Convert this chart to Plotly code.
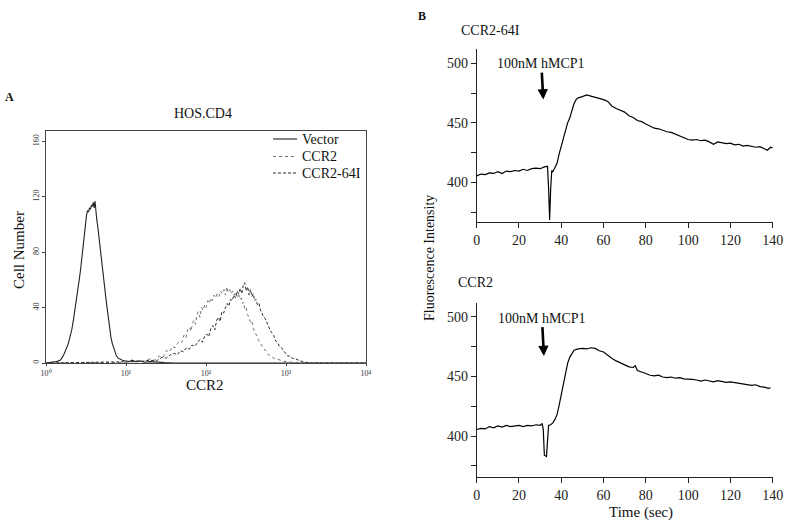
import plotly.graph_objects as go

# ---------------- Panel A: flow cytometry histograms ----------------
vector_x = [1.0, 1.2, 1.35, 1.5, 1.6, 1.7, 1.8, 1.9, 2.0, 2.1, 2.2, 2.3, 2.4, 2.5, 2.6, 2.7, 2.8, 2.9,
            3.0, 3.1, 3.2, 3.3, 3.4, 3.5, 3.6, 3.7, 3.8, 3.9, 4.0, 4.1, 4.2, 4.3, 4.45, 4.6, 4.75, 4.9,
            5.0, 5.2, 5.4, 5.6, 5.8, 6.0, 6.25, 6.5, 6.75, 7.0, 7.3, 7.6, 8.0, 8.5, 9.0, 10, 11, 12, 13,
            15, 17, 20, 25, 30, 40, 10000]
vector_y = [0, 0.5, 1, 2, 4, 7, 10, 14, 19, 24, 31, 38, 45, 52, 60, 67, 76, 84,
            92, 100, 106, 110, 109, 112, 111, 114, 113, 116, 112, 117, 108, 104, 98, 90, 82, 76,
            71, 64, 56, 47, 40, 32, 25, 18, 14, 11, 7.5, 5, 3.5, 2.5, 2, 1.5, 1, 2, 1,
            1.5, 0.5, 1, 0.5, 0.3, 0, 0]

ccr2_x = [1, 5, 10, 13, 16, 20, 23, 26, 29, 32, 35, 38, 41, 44, 47, 50, 53, 56, 59, 62, 65, 68, 71,
          74, 77, 80, 84, 88, 92, 96, 100, 105, 110, 115, 120, 126, 132, 138, 145, 152, 160, 168,
          175, 182, 190, 198, 206, 215, 225, 235, 245, 255, 265, 275, 285, 295, 305, 318, 330,
          345, 360, 375, 390, 410, 430, 450, 475, 500, 530, 560, 600, 650, 700, 760, 830, 900,
          1000, 1200, 1500, 10000]
ccr2_y = [0, 0, 0.5, 1.5, 1, 3, 2, 5, 4, 9, 8, 12, 11, 14, 16, 15, 20, 18, 24, 26, 23, 29, 31,
          28, 35, 37, 33, 40, 38, 42, 40, 45, 43, 47, 45, 49, 47, 50, 48, 52, 50, 53,
          49, 55, 51, 53, 50, 52, 49, 51, 48, 50, 46, 47, 43, 44, 39, 40, 35,
          33, 29, 30, 25, 22, 20, 17, 15, 13, 10, 9, 6, 5, 3.5, 3, 2, 1.5,
          1, 0.5, 0, 0]

ccr264i_x = [1, 5, 10, 15, 20, 24, 28, 32, 36, 40, 44, 48, 52, 57, 62, 67, 72, 78, 84, 90, 96,
             102, 108, 115, 122, 129, 136, 143, 150, 158, 166, 175, 184, 193, 203, 213, 223, 234,
             245, 256, 268, 280, 292, 305, 318, 332, 346, 360, 375, 390, 405, 420, 440, 460, 480,
             500, 525, 550, 575, 600, 630, 660, 700, 740, 780, 830, 880, 930, 990, 1050, 1120,
             1200, 1300, 1450, 1600, 1800, 2000, 10000]
ccr264i_y = [0, 0.5, 0.5, 1, 2, 1.5, 4, 3.5, 6, 7, 6, 9, 8, 11, 10, 13, 12, 15, 17, 15, 19,
             21, 19, 25, 27, 24, 31, 33, 30, 37, 36, 40, 43, 41, 46, 45, 49, 47,
             52, 50, 54, 50, 56, 58, 52, 55, 49, 53, 48, 50, 45, 46, 42, 43, 38,
             36, 33, 32, 29, 26, 24, 22, 20, 16, 15, 12, 11, 9, 7, 5, 5,
             3.5, 3, 2, 1, 0.5, 0, 0]

hist_names = ["Vector", "CCR2", "CCR2-64I"]
hist_yticks = [0, 40, 80, 120, 160]
hist_xticks = [1, 10, 100, 1000, 10000]
hist_xticklabels = ["10⁰", "10¹", "10²", "10³", "10⁴"]

# ---------------- Panel B: calcium flux traces ----------------
time_64i = [0, 2, 4, 6, 8, 10, 12, 14, 16, 18, 20, 22, 24, 26, 28, 30, 32, 33.5, 34, 34.5, 35, 35.5,
            36, 37, 38, 39, 40, 41, 42, 43, 44, 45, 46, 47, 48, 50, 52, 54, 56, 58, 60, 62, 64, 66,
            68, 70, 72, 74, 76, 78, 80, 82, 84, 86, 88, 90, 92, 94, 96, 98, 100, 102, 104, 106,
            108, 110, 112, 114, 116, 118, 120, 122, 124, 126, 128, 130, 132, 134, 136, 137.5, 139, 140]
fluor_64i = [405.5, 407, 406.5, 408, 407.5, 409, 407.5, 409.5, 409, 410, 409.5, 411, 410, 411.5, 412,
             411.5, 413, 413.5, 395, 368.5, 395, 410, 409, 412, 416, 424, 431, 437, 445, 450, 454,
             460, 466, 469.5, 471, 472, 473.5, 472.5, 471.5, 471, 469.5, 468, 464, 462, 460.5, 459,
             456, 454.5, 452, 451, 449, 447, 445.5, 445, 443.5, 442.5, 442, 440.5, 439, 437.5, 436,
             435.5, 436, 435, 435.5, 434, 432, 434, 433, 432.5, 433, 431.5, 432, 430.5, 431, 430,
             429.5, 430, 428, 427, 429.5, 429]

time_ccr2 = [0, 2, 4, 6, 8, 10, 12, 14, 16, 18, 20, 22, 24, 26, 28, 30, 31, 31.5, 32, 33, 33.5, 34,
             35, 36, 37, 38, 39, 40, 41, 42, 43, 44, 45, 46, 48, 50, 52, 54, 56, 58, 60, 62, 64, 66,
             68, 70, 72, 74, 75, 76, 78, 80, 82, 84, 86, 88, 90, 92, 94, 96, 98, 100, 102, 104, 106,
             108, 110, 112, 114, 116, 118, 120, 122, 124, 126, 128, 130, 132, 134, 136, 138, 139]
fluor_ccr2 = [405.5, 406.5, 406, 408, 407, 408.5, 407.5, 409, 408, 408.5, 409, 408, 409, 408.5, 409.5,
              409, 410.5, 405, 384, 383, 400, 409, 409.5, 411, 414, 418, 426, 435, 445, 454, 461,
              466, 469.5, 472, 473, 473.5, 473, 474, 473.5, 471.5, 470.5, 467.5, 465, 463, 461.5,
              460, 458, 457.5, 459, 455, 454, 452.5, 451, 450.5, 451, 449.5, 449, 449.5, 448.5, 449,
              448, 448, 447.5, 447, 446, 447, 446.5, 445.5, 446.5, 446, 445, 445.5, 445, 444.5,
              443.5, 443, 442.5, 443, 441.5, 441, 440, 440.5]

time_ticks = [0, 20, 40, 60, 80, 100, 120, 140]
fluor_major_ticks = [400, 450, 500]
fluor_minor_ticks = [375, 425, 475]
stimulus_label = "100nM hMCP1"
stimulus_time_64i = 31.5
stimulus_time_ccr2 = 31.8

FONT = "Liberation Serif"
W, H = 792, 524


def px(x):
    return x / W


def py(y):
    return 1 - y / H


fig = go.Figure()

hist_styles = [("#222222", "solid", 1.1), ("#6e6e6e", "dot", 1), ("#2a2a2a", "3px,2px", 1)]
for name, xs, ys, (col, dash, lw) in zip(hist_names, [vector_x, ccr2_x, ccr264i_x],
                                         [vector_y, ccr2_y, ccr264i_y], hist_styles):
    fig.add_trace(go.Scatter(x=xs, y=ys, mode="lines", name=name, showlegend=False,
                             line=dict(color=col, width=lw, dash=dash), xaxis="x", yaxis="y"))

fig.add_trace(go.Scatter(x=time_64i, y=fluor_64i, mode="lines", showlegend=False,
                         line=dict(color="black", width=1.2), xaxis="x2", yaxis="y2"))
fig.add_trace(go.Scatter(x=time_ccr2, y=fluor_ccr2, mode="lines", showlegend=False,
                         line=dict(color="black", width=1.2), xaxis="x3", yaxis="y3"))

tickfont_b = dict(family=FONT, size=14, color="#222")
minor_b = dict(tickvals=fluor_minor_ticks, ticks="outside", ticklen=5, tickcolor="#222", showgrid=False)
common = dict(showgrid=False, zeroline=False, showline=True, linewidth=1, automargin=False)

fig.update_layout(
    width=W, height=H,
    margin=dict(l=0, r=0, t=0, b=0, autoexpand=False),
    paper_bgcolor="white", plot_bgcolor="white",
    font=dict(family=FONT, color="#222"),
    showlegend=False,
    xaxis=dict(domain=[px(46), px(366)], type="log", range=[0, 4], anchor="y",
               linecolor="#444", mirror=True, ticks="outside", ticklen=2, tickcolor="#444",
               tickvals=hist_xticks, ticktext=hist_xticklabels,
               tickfont=dict(family=FONT, size=8, color="#333"), **common),
    yaxis=dict(domain=[py(363), py(131)], range=[0, 167.5], anchor="x",
               linecolor="#444", mirror=True, ticks="outside", ticklen=3, tickcolor="#444",
               tickvals=hist_yticks, tickangle=-90,
               tickfont=dict(family=FONT, size=8, color="#333"), **common),
    xaxis2=dict(domain=[px(476.7), px(772.7)], range=[0, 140], anchor="y2",
                linecolor="#222", ticks="outside", ticklen=5, tickcolor="#222", tickvals=time_ticks,
                tickfont=tickfont_b, **common),
    yaxis2=dict(domain=[py(221.7), py(49)], range=[367, 512], anchor="x2",
                linecolor="#222", ticks="outside", ticklen=5, tickcolor="#222",
                tickvals=fluor_major_ticks, minor=minor_b, tickfont=tickfont_b, **common),
    xaxis3=dict(domain=[px(476.7), px(772.7)], range=[0, 140], anchor="y3",
                linecolor="#222", ticks="outside", ticklen=5, tickcolor="#222", tickvals=time_ticks,
                tickfont=tickfont_b, **common),
    yaxis3=dict(domain=[py(476.7), py(303)], range=[366, 511.5], anchor="x3",
                linecolor="#222", ticks="outside", ticklen=5, tickcolor="#222",
                tickvals=fluor_major_ticks, minor=minor_b, tickfont=tickfont_b, **common),
)


def txt(x, y, s, size=14, angle=0, bold=False, xanchor="center"):
    fig.add_annotation(x=px(x), y=py(y), xref="paper", yref="paper", text=("<b>%s</b>" % s) if bold else s,
                       showarrow=False, textangle=angle, xanchor=xanchor, yanchor="middle",
                       font=dict(family=FONT, size=size, color="#111"))


txt(9, 97, "A", size=12, bold=True)
txt(203, 113, "HOS.CD4", size=14)
txt(19, 250, "Cell Number", size=15, angle=-90)
txt(205, 385, "CCR2", size=15)

# manual legend for panel A (key lines + labels)
legend_rows = [139, 156.5, 173]
for name, (col, dash, lw), yrow in zip(hist_names, hist_styles, legend_rows):
    fig.add_shape(type="line", xref="paper", yref="paper", x0=px(273), x1=px(297),
                  y0=py(yrow), y1=py(yrow), line=dict(color=col, width=lw, dash=dash))
    txt(300, yrow, name, size=14, xanchor="left")

txt(422, 16, "B", size=12, bold=True)
txt(459, 30, "CCR2-64I", size=14, xanchor="left")
txt(456, 282, "CCR2", size=14, xanchor="left")
txt(429, 258, "Fluorescence Intensity", size=14, angle=-90)
txt(641, 512, "Time (sec)", size=15)

# stimulus labels with arrows
fig.add_annotation(x=stimulus_time_64i, y=469.5, xref="x2", yref="y2", axref="pixel", ayref="pixel",
                   ax=-2, ay=-36, text=stimulus_label, showarrow=True, arrowhead=2, arrowsize=0.8,
                   arrowwidth=2.6, arrowcolor="black", standoff=0,
                   font=dict(family=FONT, size=14, color="#111"))
fig.add_annotation(x=stimulus_time_ccr2, y=467, xref="x3", yref="y3", axref="pixel", ayref="pixel",
                   ax=-2, ay=-38, text=stimulus_label, showarrow=True, arrowhead=2, arrowsize=0.8,
                   arrowwidth=2.6, arrowcolor="black", standoff=0,
                   font=dict(family=FONT, size=14, color="#111"))

# remove the default page margin so the 792x524 figure sits at the window origin
fig.write_html("out.html", config={"displayModeBar": False},
               post_script="document.body.style.margin='0';document.body.style.overflow='hidden';")
